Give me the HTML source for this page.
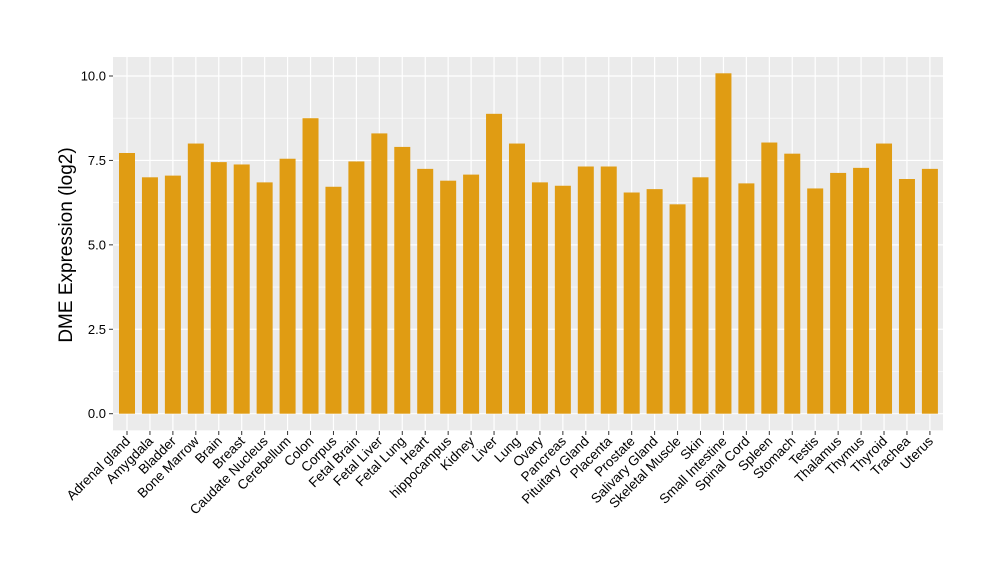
<!DOCTYPE html>
<html><head><meta charset="utf-8"><style>body{margin:0;background:#fff}</style></head><body>
<svg width="1000" height="580" xmlns="http://www.w3.org/2000/svg" font-family="Liberation Sans, sans-serif">
<rect width="1000" height="580" fill="#fff"/>
<rect x="113" y="57" width="830" height="374" fill="#ebebeb"/>
<g id="g"></g>
<text x="0" y="0" transform="translate(72,245) rotate(-90)" text-anchor="middle" font-size="19" fill="#000">DME Expression (log2)</text>
</svg>
<script>
const vals=[["Adrenal gland",7.72],["Amygdala",7.0],["Bladder",7.05],["Bone Marrow",8.0],["Brain",7.45],["Breast",7.38],["Caudate Nucleus",6.85],["Cerebellum",7.55],["Colon",8.75],["Corpus",6.72],["Fetal Brain",7.47],["Fetal Liver",8.3],["Fetal Lung",7.9],["Heart",7.25],["hippocampus",6.9],["Kidney",7.08],["Liver",8.88],["Lung",8.0],["Ovary",6.85],["Pancreas",6.75],["Pituitary Gland",7.32],["Placenta",7.32],["Prostate",6.55],["Salivary Gland",6.65],["Skeletal Muscle",6.2],["Skin",7.0],["Small Intestine",10.08],["Spinal Cord",6.82],["Spleen",8.03],["Stomach",7.7],["Testis",6.67],["Thalamus",7.13],["Thymus",7.28],["Thyroid",8.0],["Trachea",6.95],["Uterus",7.25]];
const y0=413.7,k=33.77,x0=127,dx=22.94;let s="";
for(let v=0;v<=10.5;v+=1.25){const y=y0-v*k;s+=`<line x1="113" x2="943" y1="${y}" y2="${y}" stroke="#fff" stroke-width="${(v%2.5)?0.6:1.2}"/>`;}
s+=`<line x1="113" x2="943" y1="${y0+16.9}" y2="${y0+16.9}" stroke="#fff" stroke-width="0.6"/>`;
vals.forEach((d,i)=>{const x=x0+i*dx;s+=`<line x1="${x}" x2="${x}" y1="57" y2="431" stroke="#fff" stroke-width="1.2"/>`;});
vals.forEach((d,i)=>{const x=x0+i*dx,h=d[1]*k;s+=`<rect x="${x-8}" y="${y0-h}" width="16" height="${h}" fill="#e09c13"/>`;
s+=`<line x1="${x}" x2="${x}" y1="431" y2="435" stroke="#333"/>`;
s+=`<text transform="translate(${x+4},${442}) rotate(-45)" text-anchor="end" font-size="13.5" fill="#000">${d[0]}</text>`;});
[0,2.5,5,7.5,10].forEach(v=>{const y=y0-v*k;s+=`<line x1="109" x2="113" y1="${y}" y2="${y}" stroke="#333"/><text x="106" y="${y+4.5}" text-anchor="end" font-size="13" fill="#000">${v.toFixed(1)}</text>`;});
document.getElementById("g").innerHTML=s;
</script>
</body></html>
